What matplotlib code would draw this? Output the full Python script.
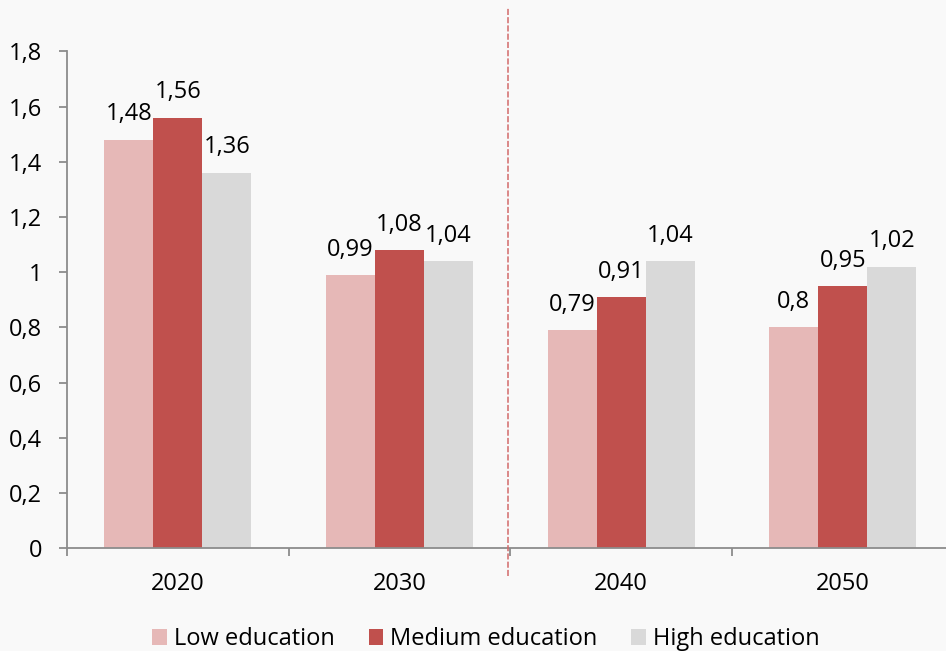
import matplotlib
matplotlib.use("Agg")
import matplotlib.pyplot as plt
import numpy as np

years = ["2020", "2030", "2040", "2050"]
series_names = ["Low education", "Medium education", "High education"]
low = [1.48, 0.99, 0.79, 0.80]
medium = [1.56, 1.08, 0.91, 0.95]
high = [1.36, 1.04, 1.04, 1.02]
yticks = [0, 0.2, 0.4, 0.6, 0.8, 1.0, 1.2, 1.4, 1.6, 1.8]
ytick_labels = ["0", "0,2", "0,4", "0,6", "0,8", "1", "1,2", "1,4", "1,6", "1,8"]
colors = ["#e6b8b7", "#c0504d", "#d9d9d9"]

plt.rcParams['font.family'] = ['Open Sans', 'DejaVu Sans']

bg = "#f9f9f9"
fs = 17
fig = plt.figure(figsize=(9.46, 6.51), dpi=100, facecolor=bg)
ax = fig.add_axes([67/946, (651-548.3)/651, 886.7/946, (548.3-7)/651])
ax.set_facecolor(bg)

n = len(years)
centers = np.arange(n) + 0.5
bw = 0.221
data = [low, medium, high]

def fmt(v):
    s = f"{v:.2f}".rstrip("0").rstrip(".")
    return s.replace(".", ",")

for i, (vals, c, name) in enumerate(zip(data, colors, series_names)):
    xs = centers + (i - 1) * bw
    ax.bar(xs, vals, width=bw, color=c, label=name, linewidth=0, zorder=2)
    for x, v in zip(xs, vals):
        ax.annotate(fmt(v), (x, v), xytext=(0, 14), textcoords="offset points",
                    ha="center", va="baseline", fontsize=fs, color="#000000")

ax.set_xlim(0, n)
ax.set_ylim(0, 1.961)

axis_color = "#8c8c8c"
for s in ["top", "right"]:
    ax.spines[s].set_visible(False)
ax.spines["left"].set_bounds(0, 1.8)
ax.spines["left"].set_color(axis_color)
ax.spines["bottom"].set_color(axis_color)
ax.spines["left"].set_linewidth(1.3)
ax.spines["bottom"].set_linewidth(1.3)

ax.set_yticks(yticks)
ax.set_yticklabels(ytick_labels)
ax.tick_params(axis="y", direction="out", length=6, width=1.3, color=axis_color,
               pad=12, labelsize=fs, labelcolor="#000000")

ax.set_xticks(np.arange(n + 1))
ax.set_xticklabels([])
ax.set_xticks(centers, minor=True)
ax.set_xticklabels(years, minor=True)
ax.tick_params(axis="x", which="major", direction="out", length=6, width=1.3, color=axis_color)
ax.tick_params(axis="x", which="minor", length=0, pad=17, labelsize=fs, labelcolor="#000000")

# dashed separator between observed and projected
ax.plot([1.99, 1.99], [-0.1, 1.961], color="#d26a6a", linewidth=1.1,
        linestyle=(0, (4, 1.4)), clip_on=False, zorder=3)

fig.legend(loc="center", bbox_to_anchor=(486/946, 12/651), ncol=3, frameon=False,
           fontsize=fs, handlelength=0.62, handleheight=0.66, handletextpad=0.3,
           columnspacing=1.43, borderaxespad=0, borderpad=0)

fig.savefig("out.png", dpi=100, facecolor=bg)
